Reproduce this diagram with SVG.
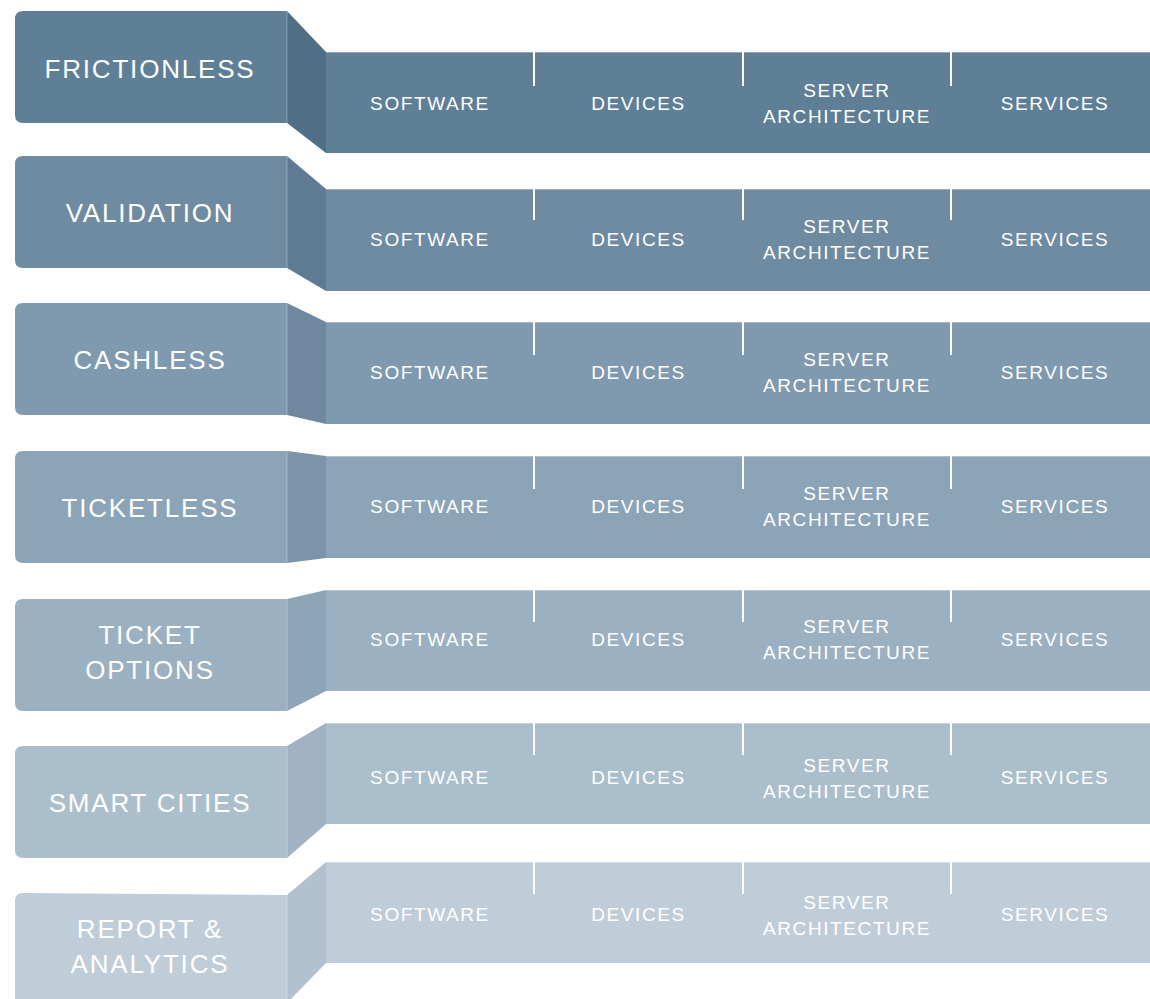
<svg xmlns="http://www.w3.org/2000/svg" width="1150" height="999" viewBox="0 0 1150 999">
<style>
.lbl{font-family:"Liberation Sans",Arial,sans-serif;font-size:26px;fill:#fff;text-anchor:middle;letter-spacing:1.8px}
.sub{font-family:"Liberation Sans",Arial,sans-serif;font-size:19px;fill:#fff;text-anchor:middle;letter-spacing:1.6px}
.div{stroke:#fff;stroke-width:2}
.edge{stroke:#ffffff;stroke-opacity:0.3;stroke-width:1;fill:none}
</style>
<rect width="1150" height="999" fill="#fff"/>
<g id="row1">
<path d="M23,11 H287 V123 H23 Q15,123 15,115 V19 Q15,11 23,11 Z" fill="#5e7f96"/>
<path d="M287,11 L326,52 V153 L287,123 Z" fill="#506e86"/>
<rect x="326" y="52" width="824" height="101" fill="#5e7f96"/>
<text class="lbl" x="150" y="78">FRICTIONLESS</text>
<text class="sub" x="430" y="110">SOFTWARE</text>
<text class="sub" x="638.5" y="110">DEVICES</text>
<text class="sub" x="847" y="97">SERVER</text>
<text class="sub" x="847" y="123">ARCHITECTURE</text>
<text class="sub" x="1055" y="110">SERVICES</text>
</g>
<g id="row2">
<path d="M23,156 H287 V268 H23 Q15,268 15,260 V164 Q15,156 23,156 Z" fill="#6e8ba1"/>
<path d="M287,156 L326,189 V291 L287,268 Z" fill="#5f7b93"/>
<rect x="326" y="189" width="824" height="102" fill="#6e8ba1"/>
<text class="lbl" x="150" y="222">VALIDATION</text>
<text class="sub" x="430" y="246">SOFTWARE</text>
<text class="sub" x="638.5" y="246">DEVICES</text>
<text class="sub" x="847" y="233">SERVER</text>
<text class="sub" x="847" y="259">ARCHITECTURE</text>
<text class="sub" x="1055" y="246">SERVICES</text>
</g>
<g id="row3">
<path d="M23,303 H287 V415 H23 Q15,415 15,407 V311 Q15,303 23,303 Z" fill="#7f99ae"/>
<path d="M287,303 L326,322 V424 L287,415 Z" fill="#6f889f"/>
<rect x="326" y="322" width="824" height="102" fill="#7f99ae"/>
<text class="lbl" x="150" y="369">CASHLESS</text>
<text class="sub" x="430" y="379">SOFTWARE</text>
<text class="sub" x="638.5" y="379">DEVICES</text>
<text class="sub" x="847" y="366">SERVER</text>
<text class="sub" x="847" y="392">ARCHITECTURE</text>
<text class="sub" x="1055" y="379">SERVICES</text>
</g>
<g id="row4">
<path d="M23,451 H287 V563 H23 Q15,563 15,555 V459 Q15,451 23,451 Z" fill="#8ca4b8"/>
<path d="M287,451 L326,456 V558 L287,563 Z" fill="#7c93a9"/>
<rect x="326" y="456" width="824" height="102" fill="#8ca4b8"/>
<text class="lbl" x="150" y="517">TICKETLESS</text>
<text class="sub" x="430" y="513">SOFTWARE</text>
<text class="sub" x="638.5" y="513">DEVICES</text>
<text class="sub" x="847" y="500">SERVER</text>
<text class="sub" x="847" y="526">ARCHITECTURE</text>
<text class="sub" x="1055" y="513">SERVICES</text>
</g>
<g id="row5">
<path d="M23,599 H287 V711 H23 Q15,711 15,703 V607 Q15,599 23,599 Z" fill="#9bb0c1"/>
<path d="M287,599 L326,590 V691 L287,711 Z" fill="#8ea4b7"/>
<rect x="326" y="590" width="824" height="101" fill="#9bb0c1"/>
<text class="lbl" x="150" y="644">TICKET</text>
<text class="lbl" x="150" y="679">OPTIONS</text>
<text class="sub" x="430" y="646">SOFTWARE</text>
<text class="sub" x="638.5" y="646">DEVICES</text>
<text class="sub" x="847" y="633">SERVER</text>
<text class="sub" x="847" y="659">ARCHITECTURE</text>
<text class="sub" x="1055" y="646">SERVICES</text>
</g>
<g id="row6">
<path d="M23,746 H287 V858 H23 Q15,858 15,850 V754 Q15,746 23,746 Z" fill="#abbecc"/>
<path d="M287,746 L326,723 V824 L287,858 Z" fill="#a0b2c3"/>
<rect x="326" y="723" width="824" height="101" fill="#abbecc"/>
<text class="lbl" x="150" y="812">SMART CITIES</text>
<text class="sub" x="430" y="784">SOFTWARE</text>
<text class="sub" x="638.5" y="784">DEVICES</text>
<text class="sub" x="847" y="772">SERVER</text>
<text class="sub" x="847" y="798">ARCHITECTURE</text>
<text class="sub" x="1055" y="784">SERVICES</text>
</g>
<g id="row7">
<path d="M23,893 L287,895 V1010 H15 V901 Q15,893 23,893 Z" fill="#bfcdd9"/>
<path d="M287,895 L326,862 V963 L287,1003 Z" fill="#b2c1cf"/>
<rect x="326" y="862" width="824" height="101" fill="#bfcdd9"/>
<text class="lbl" x="150" y="938">REPORT &amp;</text>
<text class="lbl" x="150" y="973">ANALYTICS</text>
<text class="sub" x="430" y="921">SOFTWARE</text>
<text class="sub" x="638.5" y="921">DEVICES</text>
<text class="sub" x="847" y="909">SERVER</text>
<text class="sub" x="847" y="935">ARCHITECTURE</text>
<text class="sub" x="1055" y="921">SERVICES</text>
</g>
<g id="connectors">
<path class="div" d="M534,52 V86 M743,52 V86 M951,52 V86"/>
<path class="div" d="M534,189 V220 M743,189 V220 M951,189 V220"/>
<path class="div" d="M534,322 V355 M743,322 V355 M951,322 V355"/>
<path class="div" d="M534,456 V489 M743,456 V489 M951,456 V489"/>
<path class="div" d="M534,590 V622 M743,590 V622 M951,590 V622"/>
<path class="div" d="M534,723 V755 M743,723 V755 M951,723 V755"/>
<path class="div" d="M534,862 V894 M743,862 V894 M951,862 V894"/>
<path class="edge" d="M287,11 V123 M287,156 V268 M287,303 V415 M287,451 V563 M287,599 V711 M287,746 V858 M287,895 V999"/>
<path class="edge" d="M326,52.5 H1150 M326,189.5 H1150 M326,322.5 H1150 M326,456.5 H1150 M326,590.5 H1150 M326,723.5 H1150 M326,862.5 H1150"/>
</g>
</svg>
